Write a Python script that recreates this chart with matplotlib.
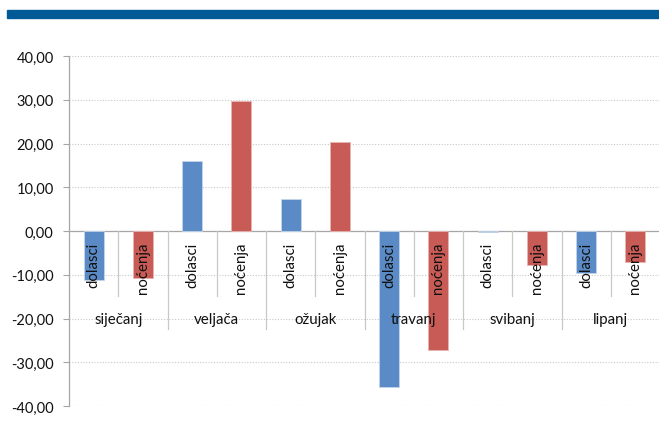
import matplotlib.pyplot as plt
import matplotlib.patches as mpatches
import numpy as np

plt.rcParams['font.family'] = ['Lato', 'DejaVu Sans']

mjeseci = ["siječanj", "veljača", "ožujak", "travanj", "svibanj", "lipanj"]
serije = ["dolasci", "noćenja"]
dolasci = [-11.2, 16.1, 7.3, -35.7, -0.3, -9.6]
nocenja = [-10.7, 29.7, 20.3, -27.1, -7.8, -7.1]

plava = "#5B8BC6"
crvena = "#C95B56"
siva = "#A6A6A6"
tekst = "#111111"

fig = plt.figure(figsize=(6.59, 4.39), dpi=100)
# gornja plava traka
fig.patches.append(mpatches.Rectangle((7 / 659, 1 - 18.5 / 439), 1, 8 / 439,
                                      transform=fig.transFigure, color="#005A96", zorder=5))

ax = fig.add_axes([69 / 659, 1 - 407 / 439, 591 / 659, 350 / 439])

n = len(mjeseci)
x_dol = np.arange(n) * 2 + 0.5
x_noc = np.arange(n) * 2 + 1.5
sirina = 0.41
ax.bar(x_dol, dolasci, sirina, color=plava, edgecolor="#C5D5EA", linewidth=0.6, zorder=2)
ax.bar(x_noc, nocenja, sirina, color=crvena, edgecolor="#E8B5B3", linewidth=0.6, zorder=2)

ax.set_xlim(0, 2 * n)
ax.set_ylim(-40, 40)
ax.set_yticks(np.arange(-40, 41, 10))
ax.set_yticklabels([f"{v:.2f}".replace(".", ",") for v in np.arange(-40, 41, 10)],
                   fontsize=10.5, color=tekst)
ax.tick_params(axis="y", length=4.5, color=siva, width=0.8, pad=6.5)
ax.set_xticks([])

for v in np.arange(-40, 41, 10):
    if v != 0:
        ax.axhline(v, color="#C8C8C8", linestyle=(0, (1, 1.5)), linewidth=0.8, zorder=0)
ax.axhline(0, color=siva, linewidth=0.9, zorder=1)

for s in ["top", "right", "bottom"]:
    ax.spines[s].set_visible(False)
ax.spines["left"].set_color(siva)
ax.spines["left"].set_linewidth(0.9)

# kategorije na osi x
for i in range(n):
    for xx, lab in [(x_dol[i], serije[0]), (x_noc[i], serije[1])]:
        ax.text(xx, -2.4, lab, rotation=90, ha="center", va="top",
                fontsize=10.8, color=tekst, zorder=4)
    ax.text(2 * i + 1, -20.1, mjeseci[i], ha="center", va="center",
            fontsize=10.8, color=tekst, zorder=4)
    ax.plot([2 * i + 1, 2 * i + 1], [0, -14.9], color="#C8C8C8", linewidth=0.9, zorder=1)
    if i > 0:
        ax.plot([2 * i, 2 * i], [0, -22.4], color="#C8C8C8", linewidth=0.9, zorder=1)

fig.savefig("out.png", dpi=100)
